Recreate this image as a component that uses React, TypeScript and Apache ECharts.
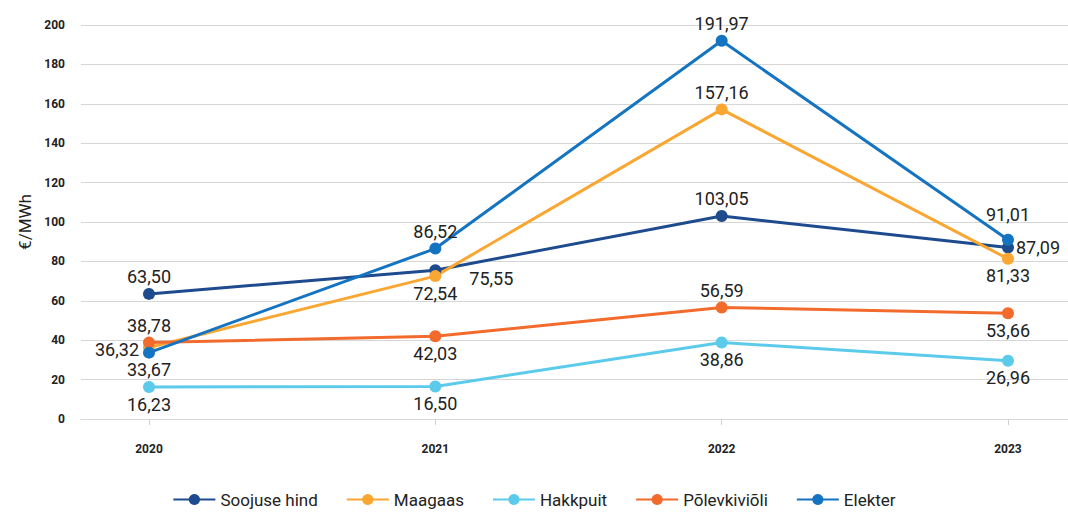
import React, { useEffect, useRef } from "react";
import * as echarts from "echarts";

const years = [2020, 2021, 2022, 2023];
const yTicks = [0, 20, 40, 60, 80, 100, 120, 140, 160, 180, 200];

const soojuseHind = [63.5, 75.55, 103.05, 87.09];
const maagaas = [36.32, 72.54, 157.16, 81.33];
const hakkpuit = [16.23, 16.5, 38.86, 29.6];
const hakkpuitLabels = ["16,23", "16,50", "38,86", "26,96"];
const polevkivioli = [38.78, 42.03, 56.59, 53.66];
const elekter = [33.67, 86.52, 191.97, 91.01];

const seriesNames = ["Soojuse hind", "Maagaas", "Hakkpuit", "Põlevkiviõli", "Elekter"];
const colors = ["#1D4B8D", "#F9A632", "#5CCBEB", "#F26B2D", "#1574C1"];

// label placement per point (style)
const labelPlacement: any[][] = [
  [{ position: "top" }, { position: "right", offset: [26, 8] }, { position: "top" }, { position: "right" }],
  [{ position: "left", offset: [-2, 2] }, { position: "bottom" }, { position: "top" }, { position: "bottom" }],
  [{ position: "bottom" }, { position: "bottom" }, { position: "bottom" }, { position: "bottom" }],
  [{ position: "top" }, { position: "bottom" }, { position: "top" }, { position: "bottom" }],
  [{ position: "bottom" }, { position: "top" }, { position: "top" }, { position: "top", offset: [0, -8] }],
];

const fmt = (v: number) => v.toFixed(2).replace(".", ",");

export default function App() {
  const ref = useRef<HTMLDivElement>(null);
  useEffect(() => {
    if (!ref.current) return;
    const chart = echarts.init(ref.current, undefined, { renderer: "svg" });
    const allValues = [soojuseHind, maagaas, hakkpuit, polevkivioli, elekter];
    const series = allValues.map((vals, si) => ({
      name: seriesNames[si],
      type: "line",
      data: vals.map((v, i) => ({
        value: [years[i], v],
        label: {
          ...labelPlacement[si][i],
          formatter: si === 2 ? hakkpuitLabels[i] : fmt(v),
        },
      })),
      symbol: "circle",
      symbolSize: 12,
      color: colors[si],
      lineStyle: { width: 3, color: colors[si] },
      itemStyle: { color: colors[si] },
      label: {
        show: true,
        fontFamily: "Roboto",
        fontSize: 18,
        color: "#222",
        distance: 2,
      },
      z: si === 4 ? 3 : 2,
    }));
    chart.setOption({
      animation: false,
      grid: { left: 81, right: 0, top: 25, bottom: 94, containLabel: false },
      legend: {
        bottom: 0,
        left: "center",
        itemWidth: 42,
        itemHeight: 14,
        itemGap: 28,
        textStyle: { fontFamily: "Roboto", fontSize: 17, color: "#222" },
        data: seriesNames,
      },
      xAxis: {
        type: "value",
        min: 2019.7625,
        max: 2023.2096,
        splitLine: { show: false },
        axisLine: { show: true, lineStyle: { color: "#d6d6d6", width: 1 } },
        axisTick: { show: true, customValues: years, length: 6, lineStyle: { color: "#cfcfcf" } },
        axisLabel: {
          customValues: years,
          margin: 24,
          fontFamily: "Roboto",
          fontWeight: "bold",
          fontSize: 12,
          color: "#222",
          formatter: (v: number) => String(Math.round(v)),
        },
      },
      yAxis: {
        type: "value",
        min: 0,
        max: 200,
        interval: 20,
        name: "€/MWh",
        nameLocation: "middle",
        nameGap: 47,
        nameTextStyle: { fontFamily: "Roboto", fontSize: 17, color: "#222" },
        axisLine: { show: false },
        axisTick: { show: false },
        splitLine: { lineStyle: { color: "#d6d6d6", width: 1 } },
        axisLabel: {
          margin: 16,
          fontFamily: "Roboto",
          fontWeight: "bold",
          fontSize: 12,
          color: "#222",
          customValues: yTicks,
        },
      },
      series,
    });
    return () => chart.dispose();
  }, []);
  return (
    <div
      ref={ref}
      style={{ position: "fixed", left: 0, top: 0, width: 1068, height: 513, background: "#fff" }}
    />
  );
}
